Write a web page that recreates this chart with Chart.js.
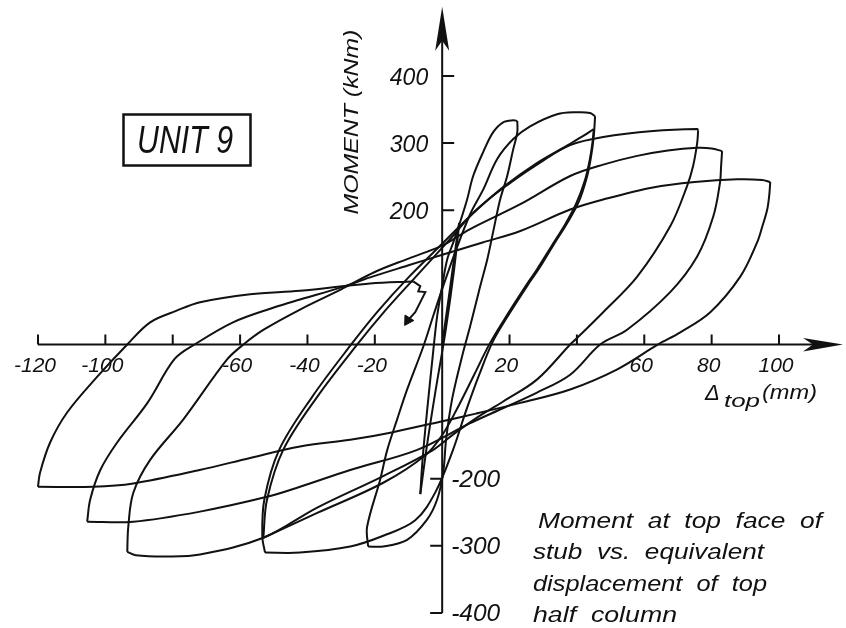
<!DOCTYPE html>
<html>
<head>
<meta charset="utf-8">
<script src="https://cdn.jsdelivr.net/npm/chart.js@4.4.1/dist/chart.umd.min.js"></script>
<style>
  html, body { margin: 0; padding: 0; background: #fff; }
  #wrap { width: 846px; height: 628px; position: relative; }
</style>
</head>
<body>
<div id="wrap"><canvas id="chart"></canvas></div>
<script>
// Moment (kNm) vs top displacement (mm), Unit 9 hysteresis record.
// Each branch runs from one reversal point to the next: [displacement, moment].

const elasticLoop = [[0,0],[2.5,90],[5,180],[3.5,110],[1,20],[-2,-70],[-4.5,-150],[-6.5,-223]];
const loadA    = [[-6.5,-223],[-5.8,-170],[-4.5,-100],[-2.7,-12],[-1.5,42],[0,87],[1.5,127],[3.3,152],[5.3,182],[7.4,216],[9.2,251],[12.2,287],[15.1,316],[18.1,331],[21.1,334],[22.3,333]];
const unloadA  = [[22.3,333],[22.3,316],[21.1,291],[19.3,251],[17.2,216],[15.1,167],[13.4,127],[11.3,87],[8.3,27],[6.2,-12],[3,-80],[1.2,-140],[0.3,-191],[-1.5,-231],[-4.5,-261],[-10.4,-291],[-17.5,-301],[-22,-301]];
const loadB    = [[-22,-301],[-22.3,-272],[-18.4,-201],[-16.3,-157],[-13.4,-112],[-10.4,-67],[-5.6,-3],[-2.5,45],[0.3,87],[4.5,146],[8.3,194],[12.2,231],[16.3,276],[21.1,306],[26.1,325],[34.1,343],[40,346],[43.9,345],[45.4,340]];
const unloadB  = [[45.4,340],[45,310],[44.2,280],[43,250],[40.5,212],[37,180],[33,148],[29,115],[25.2,87],[20.2,48],[15.1,5],[11,-45],[7,-100],[3,-160],[-2,-220],[-8,-262],[-17.5,-285],[-27.3,-301],[-42.2,-310],[-52.6,-310]];
const loadB2   = [[-52.6,-310],[-53.4,-286],[-52.8,-231],[-48.4,-157],[-38.6,-78],[-27,0],[-19,50],[-10,100],[0,150],[8,190],[18,234],[28,270],[38,299],[42,311],[45,321]];
const unloadB2 = [[45,321],[44.6,300],[43.8,275],[42.4,245],[39.8,210],[36.4,178],[32.4,146],[28.4,114],[24.4,84],[19.4,45],[14.2,2],[9.5,-45],[4.5,-95],[0,-135],[-5,-165],[-17.5,-206],[-37.1,-251],[-53.1,-288]];
const loadC    = [[-53.1,-288],[-52,-231],[-47.2,-157],[-37.1,-78],[-25.2,0],[-17,50],[-8,100],[2,155],[10,200],[20,240],[30,274],[38,297],[47.8,309],[62.6,318],[75.7,321],[76,319]];
const unloadC  = [[76,319],[75.7,300],[74.5,266],[72.7,236],[67.7,176],[57.9,101],[47.8,48],[39.5,7],[38,0],[28.2,-52],[18.1,-85],[10,-110],[3,-135],[-3,-158],[-17.5,-196],[-37.1,-243],[-53.1,-288],[-71.9,-313],[-81.7,-316],[-91,-314],[-93.5,-309]];
const loadD    = [[-93.5,-309],[-93.2,-272],[-91.7,-221],[-86.7,-172],[-76.9,-112],[-63.8,-22],[-59,0],[-53,22],[-42.2,52],[-30,82],[-20,108],[-10,128],[0.3,148],[8.3,172],[23.2,209],[38,251],[47.8,268],[57.9,281],[67,289],[75.7,293],[80,292],[83.1,288]];
const unloadD  = [[83.1,288],[82.8,265],[82.5,242],[80.5,191],[75.7,131],[67.7,78],[54.9,22],[46.9,0],[38,-45],[28,-72],[18,-95],[8,-118],[-7.4,-157],[-27.3,-187],[-42.2,-212],[-52,-227],[-71.9,-249],[-91.7,-264],[-105.4,-264]];
const loadE    = [[-105.4,-264],[-104.5,-231],[-101.5,-187],[-96.5,-146],[-87.5,-87],[-79.5,-22],[-73.5,0],[-62.1,33],[-50,55],[-42.2,67],[-30,85],[-21.4,100],[-10,118],[0.3,134],[12,152],[23.2,169],[38,201],[47.8,216],[62.6,234],[75,242],[87.6,246],[95,245],[97.4,242]];
const unloadE  = [[97.4,242],[97.1,222],[96.5,201],[95,175],[93.5,152],[88.5,101],[79.6,48],[70.7,18],[64.1,0],[52,-37],[38,-67],[23.2,-87],[10,-103],[-0.6,-115],[-15,-131],[-27.3,-142],[-42.2,-152],[-57,-169],[-72,-187],[-91.7,-207],[-103.6,-212],[-120,-212]];
const finalReload = [[-120,-212],[-119.4,-191],[-116.4,-146],[-111.3,-101],[-102.4,-48],[-93.5,0],[-86.7,33],[-79,50],[-71.9,63],[-57,75],[-42.2,80],[-21.4,91],[-8.6,94]];
const markerZigzag = [[-8.6,94],[-6.5,87],[-7.1,79],[-5,78],[-8,48],[-10.2,36]];
const markerHead = [[-10.2,36]];

// axis ticks
const xTicks = [-120,-100,-80,-60,-40,-20,20,40,60,80,100];
const xLabelled = [-120,-100,-60,-40,-20,20,60,80,100];
const yTicks = [400,300,200,-200,-300,-400];

const INK = '#111';
const FONT = '"Liberation Sans", Arial, sans-serif';

function fitText(ctx, text, x, y, width, align) {
  ctx.save();
  ctx.textAlign = align || 'left';
  const w = ctx.measureText(text).width;
  ctx.translate(x, y);
  ctx.scale(width / w, 1);
  ctx.fillText(text, 0, 0);
  ctx.restore();
}

const axesPlugin = {
  id: 'hystAxes',
  beforeDatasetsDraw(chart) {
    const { ctx, scales: { x, y } } = chart;
    const px = v => x.getPixelForValue(v);
    const py = v => y.getPixelForValue(v);
    const x0 = px(0), y0 = py(0);
    ctx.save();
    ctx.strokeStyle = INK;
    ctx.fillStyle = INK;
    ctx.lineWidth = 2;
    ctx.lineCap = 'butt';

    // horizontal axis with arrow
    const xEnd = px(119);
    ctx.beginPath();
    ctx.moveTo(px(-120), y0);
    ctx.lineTo(xEnd - 30, y0);
    ctx.stroke();
    ctx.beginPath();
    ctx.moveTo(xEnd, y0);
    ctx.lineTo(xEnd - 40, y0 - 6.5);
    ctx.lineTo(xEnd - 30, y0);
    ctx.lineTo(xEnd - 40, y0 + 7);
    ctx.closePath();
    ctx.fill();

    // vertical axis with arrow
    const yTop = py(503);
    ctx.beginPath();
    ctx.moveTo(x0, py(-400));
    ctx.lineTo(x0, yTop + 30);
    ctx.stroke();
    ctx.beginPath();
    ctx.moveTo(x0, yTop);
    ctx.lineTo(x0 - 7, yTop + 44);
    ctx.lineTo(x0, yTop + 34);
    ctx.lineTo(x0 + 7, yTop + 44);
    ctx.closePath();
    ctx.fill();

    // ticks
    ctx.beginPath();
    xTicks.forEach(v => { ctx.moveTo(px(v), y0); ctx.lineTo(px(v), y0 - 10); });
    yTicks.forEach(v => {
      const dir = v > 0 ? 1 : -1;
      ctx.moveTo(x0, py(v)); ctx.lineTo(x0 + dir * 12, py(v));
    });
    ctx.stroke();

    // tick labels
    ctx.font = 'italic 21px ' + FONT;
    ctx.textAlign = 'center';
    ctx.textBaseline = 'alphabetic';
    xLabelled.forEach(v => ctx.fillText(String(v), px(v) - 3, y0 + 27.5));
    ctx.font = 'italic 23px ' + FONT;
    yTicks.forEach(v => {
      if (v > 0) {
        ctx.textAlign = 'right';
        ctx.fillText(String(v), x0 - 14, py(v) + 9);
      } else {
        fitText(ctx, '-' + Math.abs(v), x0 + 9, py(v) + 8, 49, 'left');
      }
    });

    // axis titles
    ctx.font = 'italic 21px ' + FONT;
    ctx.save();
    ctx.translate(x0 - 84, 122);
    ctx.rotate(-Math.PI / 2);
    fitText(ctx, 'MOMENT (kNm)', 0, 0, 185, 'center');
    ctx.restore();

    ctx.font = 'italic 22px ' + FONT;
    ctx.textAlign = 'left';
    ctx.fillText('\u0394', 705, 400);
    ctx.font = 'italic 19px ' + FONT;
    fitText(ctx, 'top', 724, 407, 36, 'left');
    ctx.font = 'italic 21px ' + FONT;
    fitText(ctx, '(mm)', 762, 399, 55, 'left');

    // unit label in a box
    ctx.lineWidth = 2.5;
    ctx.strokeRect(123.5, 114.5, 127, 51);
    ctx.font = 'italic 38px ' + FONT;
    fitText(ctx, 'UNIT 9', 137, 153, 96, 'left');

    // caption
    ctx.font = 'italic 22px ' + FONT;
    fitText(ctx, 'Moment  at  top  face  of', 538, 528, 284, 'left');
    fitText(ctx, 'stub  vs.  equivalent', 533, 559, 231, 'left');
    fitText(ctx, 'displacement  of  top', 533, 591, 234, 'left');
    fitText(ctx, 'half  column', 533, 622, 144, 'left');
    ctx.restore();
  }
};

const branches = [elasticLoop, loadA, unloadA, loadB, unloadB, loadB2, unloadB2,
                  loadC, unloadC, loadD, unloadD, loadE, unloadE, finalReload];

const toPoints = arr => arr.map(([x, y]) => ({ x, y }));

const datasets = branches.map(b => ({
  data: toPoints(b),
  showLine: true,
  borderColor: INK,
  borderWidth: 2,
  pointRadius: 0,
  tension: 0.35,
  fill: false
}));
datasets.push({
  data: toPoints(markerZigzag),
  showLine: true, borderColor: INK, borderWidth: 2, pointRadius: 0, tension: 0
});
datasets.push({
  data: toPoints(markerHead),
  showLine: false, pointStyle: 'triangle', pointRadius: 6, pointRotation: 212,
  backgroundColor: INK, borderColor: INK, borderWidth: 1
});

new Chart(document.getElementById('chart'), {
  type: 'scatter',
  data: { datasets },
  options: {
    responsive: true,
    maintainAspectRatio: false,
    animation: false,
    devicePixelRatio: 1,
    layout: { padding: 0, autoPadding: false },
    plugins: { legend: { display: false }, tooltip: { enabled: false } },
    scales: {
      x: { type: 'linear', min: -131.28, max: 119.89, display: false },
      y: { type: 'linear', min: -422.4, max: 513.2, display: false }
    }
  },
  plugins: [axesPlugin]
});
</script>
</body>
</html>
